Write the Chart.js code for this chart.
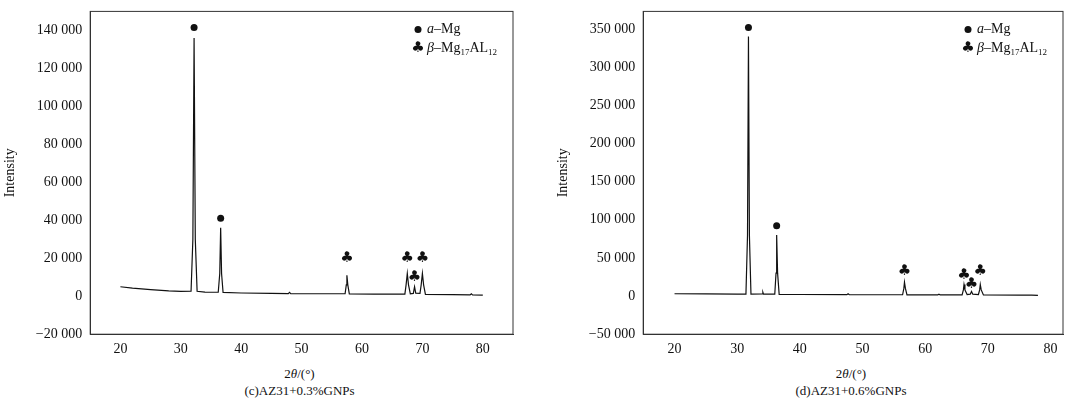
<!DOCTYPE html>
<html><head><meta charset="utf-8">
<script src="https://cdn.jsdelivr.net/npm/chart.js@4"></script>
<style>
body{margin:0;background:#fff;width:1080px;height:405px;position:relative;font-family:"Liberation Serif",serif;}
.c{position:absolute;top:0;height:360px}
.cap{position:absolute;top:365px;font-size:13px;line-height:17px;text-align:center;color:#111}
</style></head><body>
<div class="c" style="left:0;width:525px"><canvas id="a"></canvas></div>
<div class="c" style="left:553px;width:522px"><canvas id="b"></canvas></div>
<div class="cap" style="left:87px;width:425px">2<i>θ</i>/(°)<br>(c)AZ31+0.3%GNPs</div>
<div class="cap" style="left:640px;width:422px">2<i>θ</i>/(°)<br>(d)AZ31+0.6%GNPs</div>
<script>
// Left spectrum (AZ31+0.3%GNPs)
const specA=[[20,5000],[22,4300],[25,3500],[28,2800],[30,2600],[31.7,2700],[32.0,30000],[32.2,136000],[32.4,30000],[32.7,2600],[34,2200],[36.2,2100],[36.45,12000],[36.6,36000],[36.75,12000],[37.0,2000],[40,1700],[45,1500],[47.8,1400],[48,2000],[48.2,1400],[52,1300],[57.2,1300],[57.4,6000],[57.5,11000],[57.65,6000],[57.9,1200],[62,1100],[67.1,1100],[67.3,6000],[67.5,12000],[67.7,6000],[68.0,1300],[68.5,1500],[68.7,5000],[68.9,1600],[69.6,1500],[69.8,6000],[70.0,12000],[70.2,6000],[70.5,1000],[75,800],[77.9,700],[78.1,1300],[78.3,700],[80,600]];
// Right spectrum (AZ31+0.6%GNPs)
const specB=[[20,3000],[25,2800],[30,2500],[31.4,2600],[31.65,80000],[31.8,340000],[31.95,80000],[32.2,2500],[34,2700],[34.1,5000],[34.2,2500],[36.0,2400],[36.2,30000],[36.3,80000],[36.45,30000],[36.7,2300],[40,2000],[47.5,1800],[47.7,3000],[47.9,1800],[52,1700],[56.4,1700],[56.6,10000],[56.7,18000],[56.85,10000],[57.1,1600],[62,1500],[62.2,2500],[62.4,1500],[65.9,1500],[66.1,8000],[66.2,15000],[66.35,8000],[66.7,2000],[67.2,2500],[67.4,6000],[67.6,2500],[68.5,2000],[68.7,8000],[68.8,15000],[68.95,8000],[69.3,1500],[75,1200],[77,1300],[78,1000]];
const alphaA=[[32.2,141500],[36.6,41000]];
const betaA=[[57.5,20000],[67.5,20000],[68.7,10000],[70.0,20000]];
const alphaB=[[31.8,352000],[36.3,92000]];
const betaB=[[56.7,33000],[66.2,27000],[67.4,16000],[68.8,33000]];
const yTicksA=[-20000,0,20000,40000,60000,80000,100000,120000,140000];
const yTicksB=[-50000,0,50000,100000,150000,200000,250000,300000,350000];
const xTicks=[20,30,40,50,60,70,80];
const fmt=v=>{const s=Math.abs(v).toString();const r=s.length>3?s.slice(0,-3)+' '+s.slice(-3):s;return (v<0?'−':'')+r;};
const F='"Liberation Serif",serif';
function make(id,spec,al,be,yt,ymin,ymax,xmin,xmax){
 const marks={id:'m',afterDatasetsDraw(c){
  const g=c.ctx,x=c.scales.x,y=c.scales.y,a=c.chartArea;
  g.save();g.fillStyle='#111';g.textAlign='center';g.textBaseline='middle';
  al.forEach(p=>{g.beginPath();g.arc(x.getPixelForValue(p[0]),y.getPixelForValue(p[1]),3.5,0,7);g.fill();});
  g.font='15px "DejaVu Sans"';
  be.forEach(p=>g.fillText('♣',x.getPixelForValue(p[0]),y.getPixelForValue(p[1])));
  g.strokeStyle='#333';g.lineWidth=1;g.strokeRect(a.left,a.top,a.right-a.left,a.bottom-a.top);
  const lx=a.right-95,ly=a.top+18;
  g.beginPath();g.arc(lx,ly,3.5,0,7);g.fill();
  g.font='15px "DejaVu Sans"';g.fillText('♣',lx,ly+19);
  g.textAlign='left';g.font='italic 14px '+F;g.fillText('a',lx+9,ly);
  let w=g.measureText('a').width;g.font='14px '+F;g.fillText('–Mg',lx+9+w,ly);
  g.font='italic 14px '+F;g.fillText('β',lx+9,ly+19);w=g.measureText('β').width;
  g.font='14px '+F;let t='–Mg';g.fillText(t,lx+9+w,ly+19);w+=g.measureText(t).width;
  g.font='9px '+F;g.fillText('17',lx+9+w,ly+23);w+=g.measureText('17').width;
  g.font='14px '+F;g.fillText('AL',lx+9+w,ly+19);w+=g.measureText('AL').width;
  g.font='9px '+F;g.fillText('12',lx+9+w,ly+23);
  g.restore();}};
 new Chart(document.getElementById(id),{type:'scatter',
  data:{datasets:[{data:spec.map(p=>({x:p[0],y:p[1]})),showLine:true,borderColor:'#111',borderWidth:1.2,pointRadius:0,tension:0}]},
  options:{responsive:true,maintainAspectRatio:false,animation:false,
   layout:{padding:{top:10,right:12,bottom:0,left:2}},
   plugins:{legend:{display:false},tooltip:{enabled:false}},
   scales:{
    x:{type:'linear',min:xmin,max:xmax,afterBuildTicks:s=>{s.ticks=xTicks.map(v=>({value:v}));},
     grid:{display:false,drawTicks:true,tickLength:5,tickColor:'#333'},border:{color:'#333'},
     ticks:{color:'#111',font:{family:F,size:14},padding:2}},
    y:{min:ymin,max:ymax,afterBuildTicks:s=>{s.ticks=yt.map(v=>({value:v}));},
     grid:{display:false,drawTicks:true,tickLength:5,tickColor:'#333'},border:{color:'#333'},
     ticks:{color:'#111',font:{family:F,size:14},callback:v=>fmt(v),padding:3},
     title:{display:true,text:'Intensity',color:'#111',font:{family:F,size:14},padding:{top:0,bottom:14}}}}},
  plugins:[marks]});
}
make('a',specA,alphaA,betaA,yTicksA,-20000,150000,15,85);
make('b',specB,alphaB,betaB,yTicksB,-50000,373000,15,82);
</script></body></html>
